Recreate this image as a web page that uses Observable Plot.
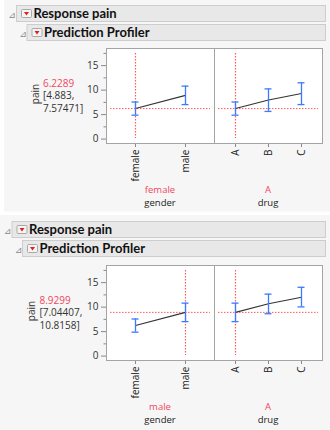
<!DOCTYPE html>
<html>
<head>
<meta charset="utf-8">
<script src="https://cdn.jsdelivr.net/npm/d3@7"></script>
<script src="https://cdn.jsdelivr.net/npm/@observablehq/plot@0.6"></script>
<style>
  html, body { margin: 0; padding: 0; background: #ffffff; }
  #root { position: relative; width: 330px; height: 430px; overflow: hidden; font-family: "Open Sans", sans-serif; }
  #root > svg, #root > .pl { position: absolute; }
  .pl svg { overflow: visible; }
</style>
</head>
<body>
<div id="root"></div>
<script>
// ---- data ----
const responseName = "pain";
const genderLevels = ["female", "male"];
const drugLevels = ["A", "B", "C"];

// Profile 1: gender = female, drug = A
const p1Current = { gender: "female", drug: "A" };
const p1Value = 6.2289;
const p1Interval = ["4.883,", "7.57471]"];
const p1GenderPred = [6.2289, 8.9299];
const p1GenderLo   = [4.883, 7.04407];
const p1GenderHi   = [7.57471, 10.8158];
const p1DrugPred = [6.2289, 8.0, 9.3];
const p1DrugLo   = [4.883, 5.65, 7.05];
const p1DrugHi   = [7.57471, 10.25, 11.5];

// Profile 2: gender = male, drug = A
const p2Current = { gender: "male", drug: "A" };
const p2Value = 8.9299;
const p2Interval = ["7.04407,", "10.8158]"];
const p2GenderPred = [6.2289, 8.9299];
const p2GenderLo   = [4.883, 7.04407];
const p2GenderHi   = [7.57471, 10.8158];
const p2DrugPred = [8.9299, 10.7, 12.0];
const p2DrugLo   = [7.04407, 8.65, 10.05];
const p2DrugHi   = [10.8158, 12.65, 14.05];

const yMajor = [0, 5, 10, 15];
const yMinor = [2.5, 7.5, 12.5, 17.5];

// ---- styles ----
const RED_LINE = "#ff5a5a";
const RED_TEXT = "#f04860";
const BLUE = "#3a7bff";
const FONT = "'Open Sans', sans-serif";
const root = document.getElementById("root");

function rows(levels, pred, lo, hi) {
  return levels.map((l, i) => ({ level: l, pred: pred[i], lo: lo[i], hi: hi[i] }));
}

function panel({ levels, pred, lo, hi, current, yval, showY, width, marginLeft, marginRight, padding }) {
  const data = rows(levels, pred, lo, hi);
  const marks = [
    Plot.frame({ fill: "white", stroke: "none" }),
    Plot.ruleY([{ v: yval }], { y: "v", stroke: RED_LINE, strokeDasharray: "1.5,1.5", insetLeft: 4, insetRight: 4 }),
    Plot.ruleX([{ v: current }], { x: "v", stroke: RED_LINE, strokeWidth: 1.2, strokeDasharray: "1.5,1.5", insetTop: 5, insetBottom: 5 }),
    Plot.line(data, { x: "level", y: "pred", stroke: "#333", strokeWidth: 1.1 }),
    Plot.ruleX(data, { x: "level", y1: "lo", y2: "hi", stroke: BLUE, strokeWidth: 1.3 }),
    Plot.ruleY(data, { x1: "level", x2: "level", y: "lo", stroke: BLUE, strokeWidth: 1.3, insetLeft: -3.5, insetRight: -3.5 }),
    Plot.ruleY(data, { x1: "level", x2: "level", y: "hi", stroke: BLUE, strokeWidth: 1.3, insetLeft: -3.5, insetRight: -3.5 }),
    Plot.axisX({ tickRotate: -90, tickSize: 4, tickPadding: 2, label: null, stroke: "#888", fill: "#222" }),
    Plot.frame({ stroke: "#a4a4a4" })
  ];
  if (showY) {
    marks.push(Plot.axisY({ ticks: yMajor, tickSize: 5, tickPadding: 3, label: null, stroke: "#888", fill: "#333" }));
    marks.push(Plot.axisY({ ticks: yMinor, tickSize: 2.5, tickFormat: () => "", label: null, stroke: "#888" }));
  }
  return Plot.plot({
    width, height: 143,
    marginTop: 8, marginBottom: 40, marginLeft, marginRight,
    x: { type: "point", domain: levels, padding, axis: null },
    y: { domain: [-0.9, 18.5], axis: null },
    style: { fontFamily: FONT, fontSize: "10px", background: "transparent", overflow: "visible" },
    marks
  });
}

function place(node, left, top) {
  const d = document.createElement("div");
  d.className = "pl";
  d.style.left = left + "px";
  d.style.top = top + "px";
  d.appendChild(node);
  root.appendChild(d);
}

function header(dx, dy, level, label) {
  const bx = level === 0 ? 16 + dx : 26.5 + dx;
  const by = level === 0 ? 5 + dy : 24 + dy;
  const tx = level === 0 ? 8.5 + dx : 19.5 + dx;
  const btn = bx + 5;
  return `
  <text x="${tx}" y="${by + 12.5}" font-family="DejaVu Sans" font-size="9" fill="#8a8a8a">⊿</text>
  <rect x="${bx + 0.5}" y="${by + 0.5}" width="${325 - bx}" height="16" fill="#e8e8e8" stroke="#cdcdcd"/>
  <rect x="${btn + 0.5}" y="${by + 4.5}" width="10" height="8" fill="#f4f4f4" stroke="#a9a9a9" rx="1"/>
  <path d="M${btn + 3},${by + 7} L${btn + 8},${by + 7} L${btn + 5.5},${by + 10.5} Z" fill="#e02020"/>
  <text x="${btn + 12.5}" y="${by + 13}" font-family="Lato" font-weight="bold" font-size="13" fill="#111">${label}</text>`;
}

function chrome() {
  let s = `<svg width="330" height="430" xmlns="http://www.w3.org/2000/svg" style="left:0;top:0">`;
  s += `<rect x="4" y="0" width="326" height="211.5" fill="#f6f6f6"/>`;
  s += `<rect x="0" y="215" width="330" height="215" fill="#f6f6f6"/>`;
  s += header(0, 0, 0, "Response pain") + header(0, 0, 1, "Prediction Profiler");
  s += header(-4.5, 216, 0, "Response pain") + header(-4.5, 216, 1, "Prediction Profiler");
  const profiles = [
    { ft: 48, lx: 43, px: 38.5, val: p1Value, iv: p1Interval, cur: p1Current },
    { ft: 265, lx: 39.5, px: 35, val: p2Value, iv: p2Interval, cur: p2Current }
  ];
  for (const p of profiles) {
    s += `<text transform="translate(${p.px},${p.ft + 46}) rotate(-90)" text-anchor="middle" font-family="${FONT}" font-size="10" fill="#333">${responseName}</text>`;
    s += `<text x="${p.lx}" y="${p.ft + 38.5}" font-family="${FONT}" font-size="10" fill="${RED_TEXT}">${p.val}</text>`;
    s += `<text x="${p.lx}" y="${p.ft + 51}" font-family="${FONT}" font-size="10" fill="#333">[${p.iv[0]}</text>`;
    s += `<text x="${p.lx}" y="${p.ft + 63.5}" font-family="${FONT}" font-size="10" fill="#333">${p.iv[1]}</text>`;
    s += `<text x="160" y="${p.ft + 145}" text-anchor="middle" font-family="${FONT}" font-size="9.5" fill="${RED_TEXT}">${p.cur.gender}</text>`;
    s += `<text x="160" y="${p.ft + 158}" text-anchor="middle" font-family="${FONT}" font-size="9.5" fill="#222">gender</text>`;
    s += `<text x="268" y="${p.ft + 145}" text-anchor="middle" font-family="${FONT}" font-size="9.5" fill="${RED_TEXT}">${p.cur.drug}</text>`;
    s += `<text x="268" y="${p.ft + 158}" text-anchor="middle" font-family="${FONT}" font-size="9.5" fill="#222">drug</text>`;
  }
  s += `</svg>`;
  root.insertAdjacentHTML("beforeend", s);
}

chrome();

const setups = [
  { ft: 48, g: [p1GenderPred, p1GenderLo, p1GenderHi], d: [p1DrugPred, p1DrugLo, p1DrugHi], cur: p1Current, val: p1Value },
  { ft: 265, g: [p2GenderPred, p2GenderLo, p2GenderHi], d: [p2DrugPred, p2DrugLo, p2DrugHi], cur: p2Current, val: p2Value }
];
for (const s of setups) {
  place(panel({ levels: genderLevels, pred: s.g[0], lo: s.g[1], hi: s.g[2], current: s.cur.gender, yval: s.val,
                showY: true, width: 215, marginLeft: 106, marginRight: 1, padding: 0.58 }), 0, s.ft - 8);
  place(panel({ levels: drugLevels, pred: s.d[0], lo: s.d[1], hi: s.d[2], current: s.cur.drug, yval: s.val,
                showY: false, width: 111, marginLeft: 1, marginRight: 2, padding: 0.6 }), 213, s.ft - 8);
}
</script>
</body>
</html>
